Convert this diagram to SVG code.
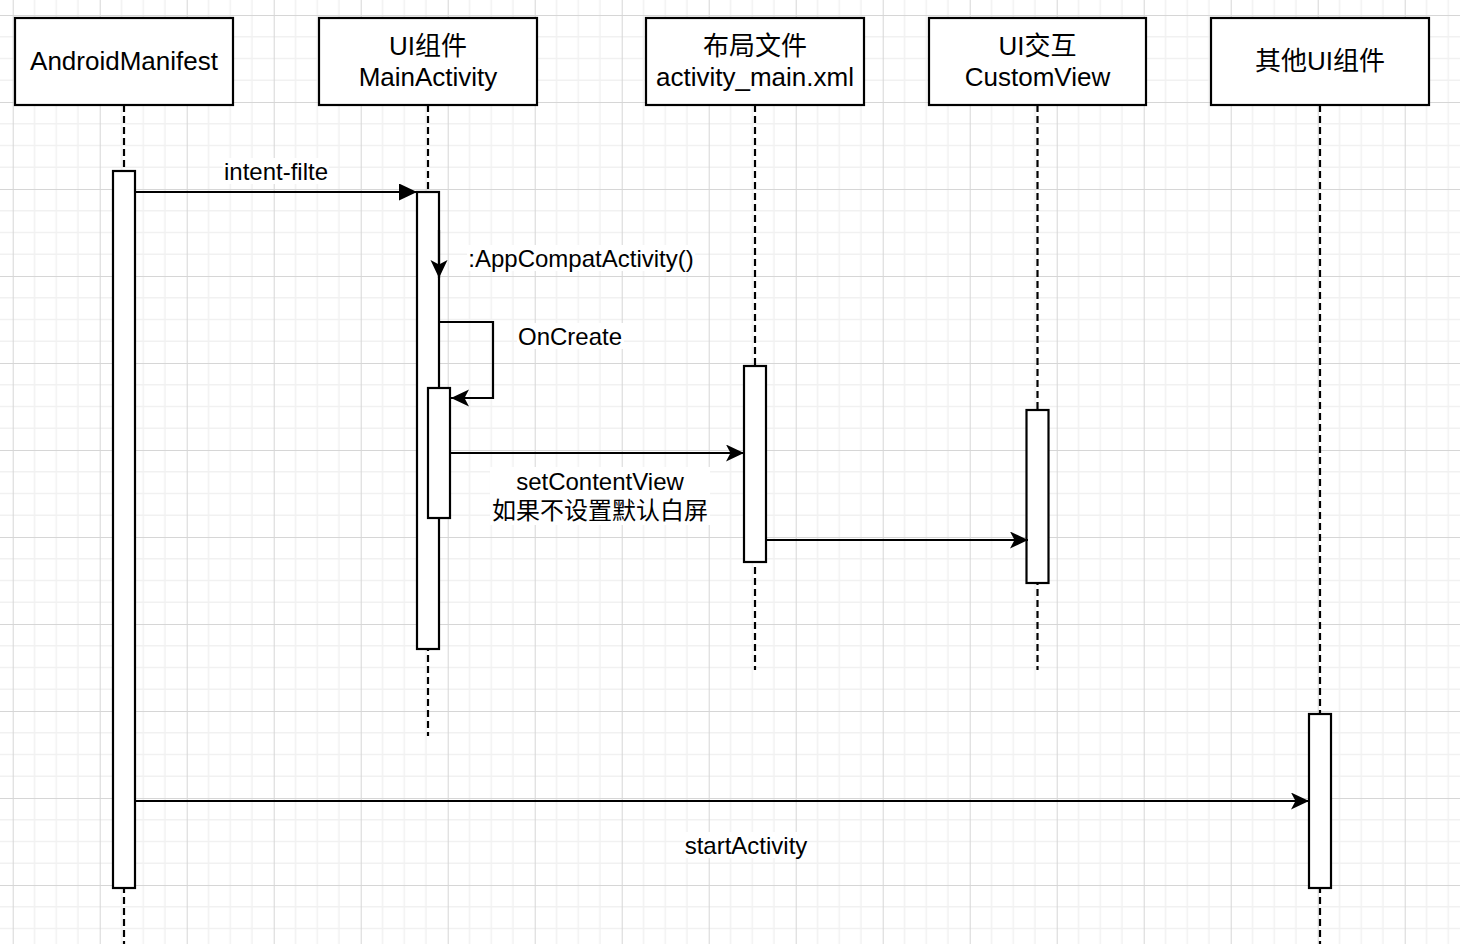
<svg xmlns="http://www.w3.org/2000/svg" width="1460" height="944" viewBox="0 0 1460 944">
  <style>
    text { font-family: "Liberation Sans", "Noto Sans CJK SC", sans-serif; fill: #000; }
    .hdr { fill: #fff; stroke: #000; stroke-width: 2.2; }
    .hdrtxt { font-size: 26px; text-anchor: middle; }
    .life { stroke: #000; stroke-width: 2.2; stroke-dasharray: 7 4; fill: none; }
    .act { fill: #fff; stroke: #000; stroke-width: 2.2; }
    .msg { stroke: #000; stroke-width: 2.2; fill: none; }
    .lbl { font-size: 24px; text-anchor: middle; }
    .lblbg { fill: #fff; }
  </style>
  <defs>
    <pattern id="grid" x="12.7" y="15" width="87" height="87" patternUnits="userSpaceOnUse">
      <path d="M21.75,0 V87 M43.5,0 V87 M65.25,0 V87 M0,21.75 H87 M0,43.5 H87 M0,65.25 H87" stroke="#f1f1f1" stroke-width="1.5" fill="none"/>
      <path d="M0.5,0 V87 M0,0.5 H87" stroke="#d6d6d6" stroke-width="1" fill="none"/>
    </pattern>
    <marker id="block" markerUnits="userSpaceOnUse" markerWidth="20" markerHeight="20" refX="18" refY="8.5" orient="auto" viewBox="0 0 20 20">
      <path d="M0,0 L18,8.5 L0,17 Z" fill="#000"/>
    </marker>
    <marker id="classic" markerUnits="userSpaceOnUse" markerWidth="20" markerHeight="20" refX="18" refY="8.5" orient="auto" viewBox="0 0 20 20">
      <path d="M0,0 L18,8.5 L0,17 L4.5,8.5 Z" fill="#000"/>
    </marker>
  </defs>
  <rect x="0" y="0" width="1460" height="944" fill="#fff"/>
  <rect x="0" y="0" width="1460" height="944" fill="url(#grid)"/>

  <g id="node-androidmanifest">
    <line class="life" x1="124" y1="105" x2="124" y2="944"/>
    <rect class="hdr" x="15" y="18" width="218" height="87"/>
    <text class="hdrtxt" x="124" y="70">AndroidManifest</text>
    <rect class="act" x="113" y="171" width="22" height="717"/>
  </g>

  <g id="node-mainactivity">
    <line class="life" x1="428" y1="105" x2="428" y2="736"/>
    <rect class="hdr" x="319" y="18" width="218" height="87"/>
    <text class="hdrtxt" x="428" y="55">UI组件</text>
    <text class="hdrtxt" x="428" y="86">MainActivity</text>
    <rect class="act" x="417" y="192" width="22" height="457"/>
    <rect class="act" x="428" y="388" width="22" height="130"/>
  </g>

  <g id="node-layout">
    <line class="life" x1="755" y1="105" x2="755" y2="670"/>
    <rect class="hdr" x="646" y="18" width="218" height="87"/>
    <text class="hdrtxt" x="755" y="55">布局文件</text>
    <text class="hdrtxt" x="755" y="86">activity_main.xml</text>
    <rect class="act" x="744" y="366" width="22" height="196"/>
  </g>

  <g id="node-customview">
    <line class="life" x1="1037.5" y1="105" x2="1037.5" y2="670"/>
    <rect class="hdr" x="929" y="18" width="217" height="87"/>
    <text class="hdrtxt" x="1037.5" y="55">UI交互</text>
    <text class="hdrtxt" x="1037.5" y="86">CustomView</text>
    <rect class="act" x="1026.5" y="410" width="22" height="173"/>
  </g>

  <g id="node-other">
    <line class="life" x1="1320" y1="105" x2="1320" y2="944"/>
    <rect class="hdr" x="1211" y="18" width="218" height="87"/>
    <text class="hdrtxt" x="1320" y="70">其他UI组件</text>
    <rect class="act" x="1309" y="714" width="22" height="174"/>
  </g>

  <g id="connectors">
    <line class="msg" x1="135" y1="192" x2="417" y2="192" marker-end="url(#block)"/>
    <rect class="lblbg" x="223" y="158" width="106" height="26"/>
    <text class="lbl" x="276" y="179.5">intent-filte</text>

    <line class="msg" x1="439" y1="230" x2="439" y2="278" marker-end="url(#classic)"/>
    <rect class="lblbg" x="467" y="245" width="228" height="26"/>
    <text class="lbl" x="581" y="266.5">:AppCompatActivity()</text>

    <polyline class="msg" points="439,322 493,322 493,398 451,398" marker-end="url(#classic)"/>
    <rect class="lblbg" x="517" y="323" width="107" height="26"/>
    <text class="lbl" x="570" y="344.5">OnCreate</text>

    <line class="msg" x1="450" y1="453" x2="744" y2="453" marker-end="url(#classic)"/>
    <rect class="lblbg" x="490" y="467" width="220" height="58"/>
    <text class="lbl" x="600" y="489.5">setContentView</text>
    <text class="lbl" x="600" y="518.5">如果不设置默认白屏</text>

    <line class="msg" x1="766" y1="540" x2="1028" y2="540" marker-end="url(#classic)"/>

    <line class="msg" x1="135" y1="801" x2="1309" y2="801" marker-end="url(#classic)"/>
    <rect class="lblbg" x="685" y="832" width="122" height="26"/>
    <text class="lbl" x="746" y="853.5">startActivity</text>
  </g>
</svg>
